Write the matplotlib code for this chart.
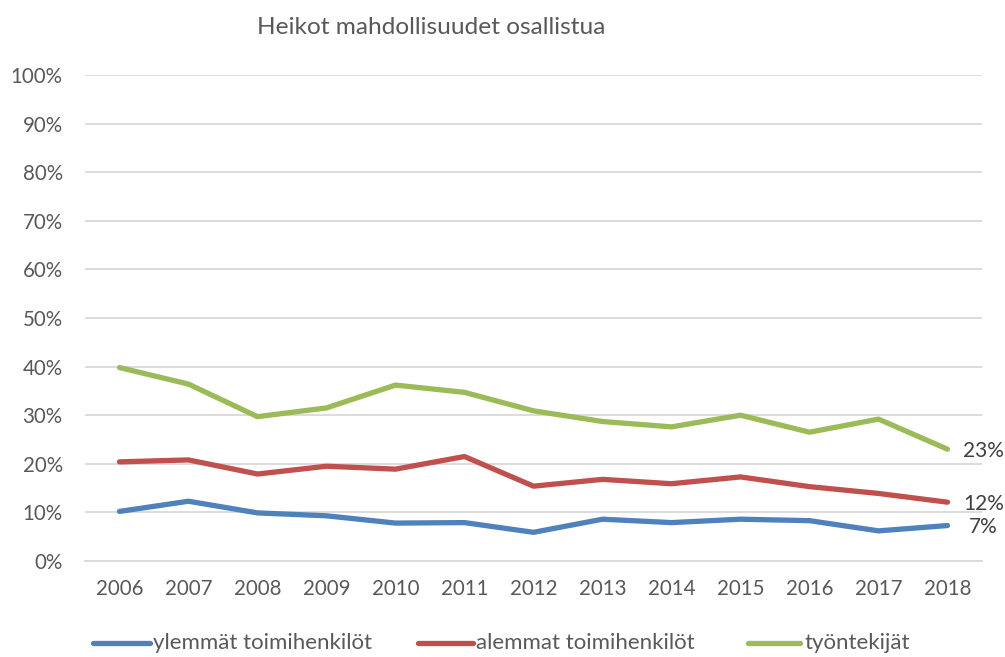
import matplotlib
matplotlib.use("Agg")
import matplotlib.pyplot as plt
from matplotlib.lines import Line2D
import numpy as np

plt.rcParams['font.family'] = ['Lato', 'DejaVu Sans']

years = ['2006', '2007', '2008', '2009', '2010', '2011', '2012',
         '2013', '2014', '2015', '2016', '2017', '2018']
series_names = ['ylemmät toimihenkilöt', 'alemmat toimihenkilöt', 'työntekijät']
ylemmat = [10.2, 12.3, 9.9, 9.3, 7.8, 7.9, 5.9, 8.6, 7.9, 8.6, 8.3, 6.2, 7.3]
alemmat = [20.4, 20.8, 17.9, 19.5, 18.9, 21.5, 15.4, 16.8, 15.9, 17.3, 15.3, 13.9, 12.1]
tyontekijat = [39.8, 36.4, 29.7, 31.5, 36.2, 34.7, 30.9, 28.7, 27.6, 30.0, 26.5, 29.2, 23.0]
end_labels = ['7%', '12%', '23%']
colors = ['#4F81BD', '#C0504D', '#9BBB59']
title = 'Heikot mahdollisuudet osallistua'

W, H = 1005, 657
fig = plt.figure(figsize=(W / 100, H / 100), dpi=100)
ax = fig.add_axes([85 / W, 1 - 561 / H, (982 - 85) / W, (561 - 75) / H])

x = np.arange(len(years))
data = [np.array(ylemmat) / 100, np.array(alemmat) / 100, np.array(tyontekijat) / 100]
txtc = '#595959'
for vals, c in zip(data, colors):
    ax.plot(x, vals, color=c, lw=3.8, solid_capstyle='round', solid_joinstyle='round', zorder=3)

# end labels
for vals, lab in zip(data, end_labels):
    ax.annotate(lab, (x[-1], vals[-1]), xytext=(26, -1), textcoords='offset points',
                ha='center', va='center', fontsize=15, color='#404040', zorder=4)

ax.set_xlim(-0.5, len(years) - 0.5)
ax.set_ylim(0, 1)
ax.set_yticks(np.arange(0, 1.01, 0.1))
ax.set_yticklabels([f'{int(round(v * 100))}%' for v in np.arange(0, 1.01, 0.1)])
ax.set_xticks(x)
ax.set_xticklabels(years)
ax.tick_params(axis='both', length=0, labelsize=14.8, colors=txtc)
ax.tick_params(axis='y', pad=16)
ax.tick_params(axis='x', pad=13)
ax.grid(axis='y', color='#D9D9D9', lw=1.3)
ax.set_axisbelow(True)
for s in ['top', 'right', 'left']:
    ax.spines[s].set_visible(False)
ax.spines['bottom'].set_color('#D9D9D9')
ax.spines['bottom'].set_linewidth(1.3)

fig.text(431 / W, 1 - 27 / H, title, ha='center', va='center', fontsize=17.6, color=txtc)

# legend
leg_y = 1 - 643 / H
leg_items = [(93, 150, 153), (418, 473, 476), (748, 800, 804)]
for (x0, x1, xt), name, c in zip(leg_items, series_names, colors):
    fig.add_artist(Line2D([x0 / W, x1 / W], [leg_y, leg_y], color=c, lw=3.8,
                          solid_capstyle='round', transform=fig.transFigure))
    fig.text(xt / W, leg_y, name, ha='left', va='center', fontsize=16, color=txtc)

fig.savefig('out.png', dpi=100)
